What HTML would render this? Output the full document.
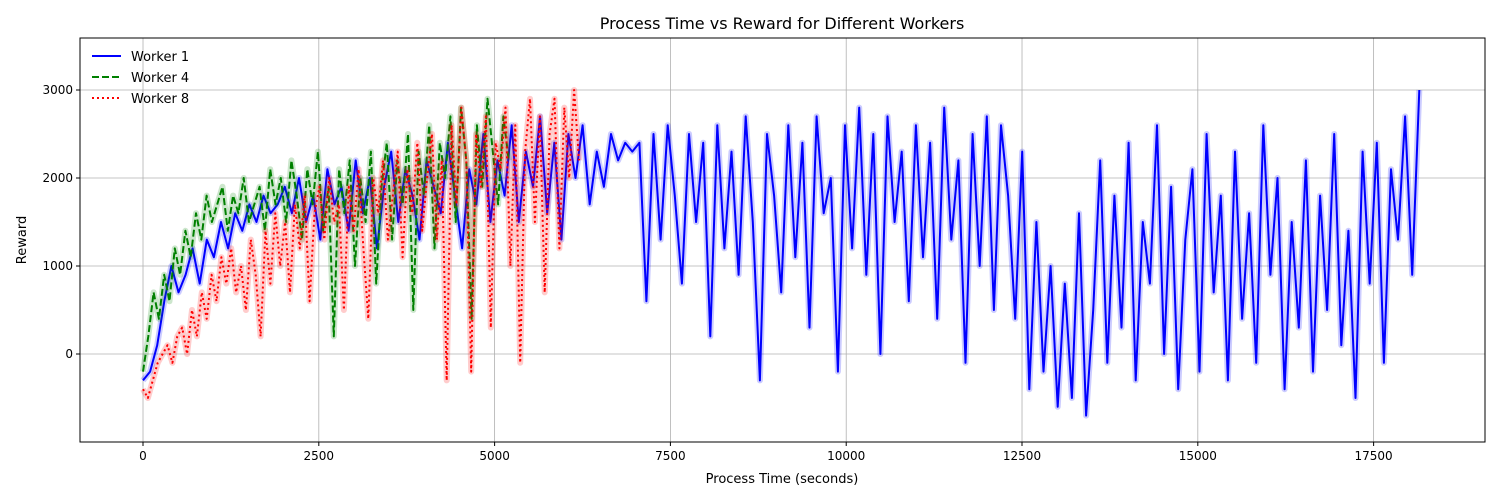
<!DOCTYPE html>
<html><head><meta charset="utf-8"><style>
body{margin:0;background:#fff;}
svg{display:block;font-family:"DejaVu Sans","Liberation Sans",sans-serif;}
</style></head><body>
<svg id="chart" width="1500" height="500" xmlns="http://www.w3.org/2000/svg">
<text x="782" y="29" font-size="16" text-anchor="middle" fill="#000">Process Time vs Reward for Different Workers</text>
<g id="grid"></g>
<g id="series"></g>
<rect x="80" y="38" width="1405" height="404" fill="none" stroke="#000" stroke-width="1"/>
<g id="ticks"></g>
<text x="782" y="483" font-size="13" text-anchor="middle">Process Time (seconds)</text>
<text x="26" y="240" font-size="13" text-anchor="middle" transform="rotate(-90 26 240)">Reward</text>
<g font-size="13">
<g><line x1="92" y1="56" x2="121" y2="56" stroke="#0000ff" stroke-width="2"/><text x="131" y="61">Worker 1</text></g>
<g><line x1="92" y1="77" x2="121" y2="77" stroke="#008000" stroke-width="2" stroke-dasharray="7,3"/><text x="131" y="82">Worker 4</text></g>
<g><line x1="92" y1="98" x2="121" y2="98" stroke="#ff0000" stroke-width="2" stroke-dasharray="2,3"/><text x="131" y="103">Worker 8</text></g>
</g>
</svg>
<script>
const xTicks=[0,2500,5000,7500,10000,12500,15000,17500];
const yTicks=[0,1000,2000,3000];
const w1Range=[0,18150];
const w1=[-300,-200,100,600,1000,700,900,1200,800,1300,1100,1500,1200,1600,1400,1700,1500,1800,1600,1700,
1900,1600,2000,1500,1800,1300,2100,1700,1900,1400,2200,1600,2000,1200,1900,2300,1500,2100,1800,1300,2200,1900,1600,2400,1800,1200,2100,1700,2500,1500,
2200,1800,2600,1500,2300,1900,2700,1600,2400,1300,2500,2000,2600,1700,2300,1900,2500,2200,2400,2300,
2400,600,2500,1300,2600,1800,800,2500,1500,2400,200,2600,1200,2300,900,2700,1500,-300,2500,1800,700,2600,1100,2400,300,2700,1600,2000,-200,2600,1200,2800,900,2500,0,2700,1500,2300,600,2600,1100,2400,400,2800,1300,2200,-100,2500,1000,2700,500,2600,1800,
400,2300,-400,1500,-200,1000,-600,800,-500,1600,-700,500,
2200,-100,1800,300,2400,-300,1500,800,2600,0,1900,-400,1300,2100,-200,2500,700,1800,-300,2300,400,1600,-100,2600,900,2000,-400,1500,300,2200,-200,1800,500,2500,100,1400,-500,2300,800,2400,-100,2100,1300,2700,900,3000];
const w4Range=[0,5200];
const w4=[-200,200,700,400,900,600,1200,900,1400,1100,1600,1300,1800,1500,1700,1900,1400,1800,1600,2000,1500,1700,1900,1400,2100,1700,2000,1500,2200,1800,1300,2100,1700,2300,1400,1900,200,2100,1600,2200,1000,2000,1500,2300,800,1900,2400,1300,2200,1700,2500,500,2300,1800,2600,1200,2400,2000,2700,1500,2800,2200,400,2600,1900,2900,2300,1700,2700,2200];
const w8Range=[0,6200];
const w8=[-400,-500,-300,-100,0,100,-100,200,300,0,500,200,700,400,900,600,1100,800,1200,700,1000,500,1300,900,200,1400,800,1600,1000,1500,700,1700,1200,1800,600,1600,1900,1300,2000,1500,1700,500,1900,1400,2100,1200,400,2000,1600,2200,1300,1800,2300,1100,2100,1600,2400,1400,2000,2500,1300,2200,-300,2600,1700,2800,2200,-200,2500,1900,2700,300,2400,2100,2800,1000,2600,-100,2300,2900,1500,2700,700,2500,2900,1200,2800,2000,3000,2200];

const NS="http://www.w3.org/2000/svg";
const L=80,R=1485,T=38,B=442;
const xMin=-896,xMax=19084,yMin=-1000,yMax=3591;
function sx(v){return L+(v-xMin)/(xMax-xMin)*(R-L);}
function sy(v){return B-(v-yMin)/(yMax-yMin)*(B-T);}
function mk(tag,attrs,parent){const e=document.createElementNS(NS,tag);for(const k in attrs)e.setAttribute(k,attrs[k]);parent.appendChild(e);return e;}
const grid=document.getElementById('grid'),ticks=document.getElementById('ticks'),ser=document.getElementById('series');
xTicks.forEach(t=>{const x=sx(t);
 const g=mk('line',{x1:x,x2:x,y1:T,y2:B,stroke:'#b0b0b0','stroke-width':0.8},grid);
 
 
 mk('line',{x1:x,x2:x,y1:B,y2:B+4,stroke:'#000'},ticks);
 const tx=mk('text',{x:x,y:B+18,'font-size':12,'text-anchor':'middle'},ticks);tx.textContent=t;
 
 
});
yTicks.forEach(t=>{const y=sy(t);
 const g=mk('line',{x1:L,x2:R,y1:y,y2:y,stroke:'#b0b0b0','stroke-width':0.8},grid);
 
 
 mk('line',{x1:L-4,x2:L,y1:y,y2:y,stroke:'#000'},ticks);
 const tx=mk('text',{x:L-7,y:y+4,'font-size':12,'text-anchor':'end'},ticks);tx.textContent=t;
 
 
});
function draw(vals,range,color,dash,name){
 const n=vals.length;let d='';
 vals.forEach((v,i)=>{const t=range[0]+(range[1]-range[0])*i/(n-1);d+=(i?'L':'M')+sx(t).toFixed(1)+','+sy(v).toFixed(1);});
 const band=mk('path',{d:d,fill:'none',stroke:color,'stroke-opacity':0.2,'stroke-width':6,'stroke-linejoin':'round'},ser);
 
 
 const p=mk('path',{d:d,fill:'none',stroke:color,'stroke-width':2,'stroke-linejoin':'round'},ser);
 if(dash)p.setAttribute('stroke-dasharray',dash);
 
 
}
draw(w1,w1Range,'#0000ff',null,'worker-1');
draw(w4,w4Range,'#008000','7,3','worker-4');
draw(w8,w8Range,'#ff0000','2,3','worker-8');
</script>
</body></html>
